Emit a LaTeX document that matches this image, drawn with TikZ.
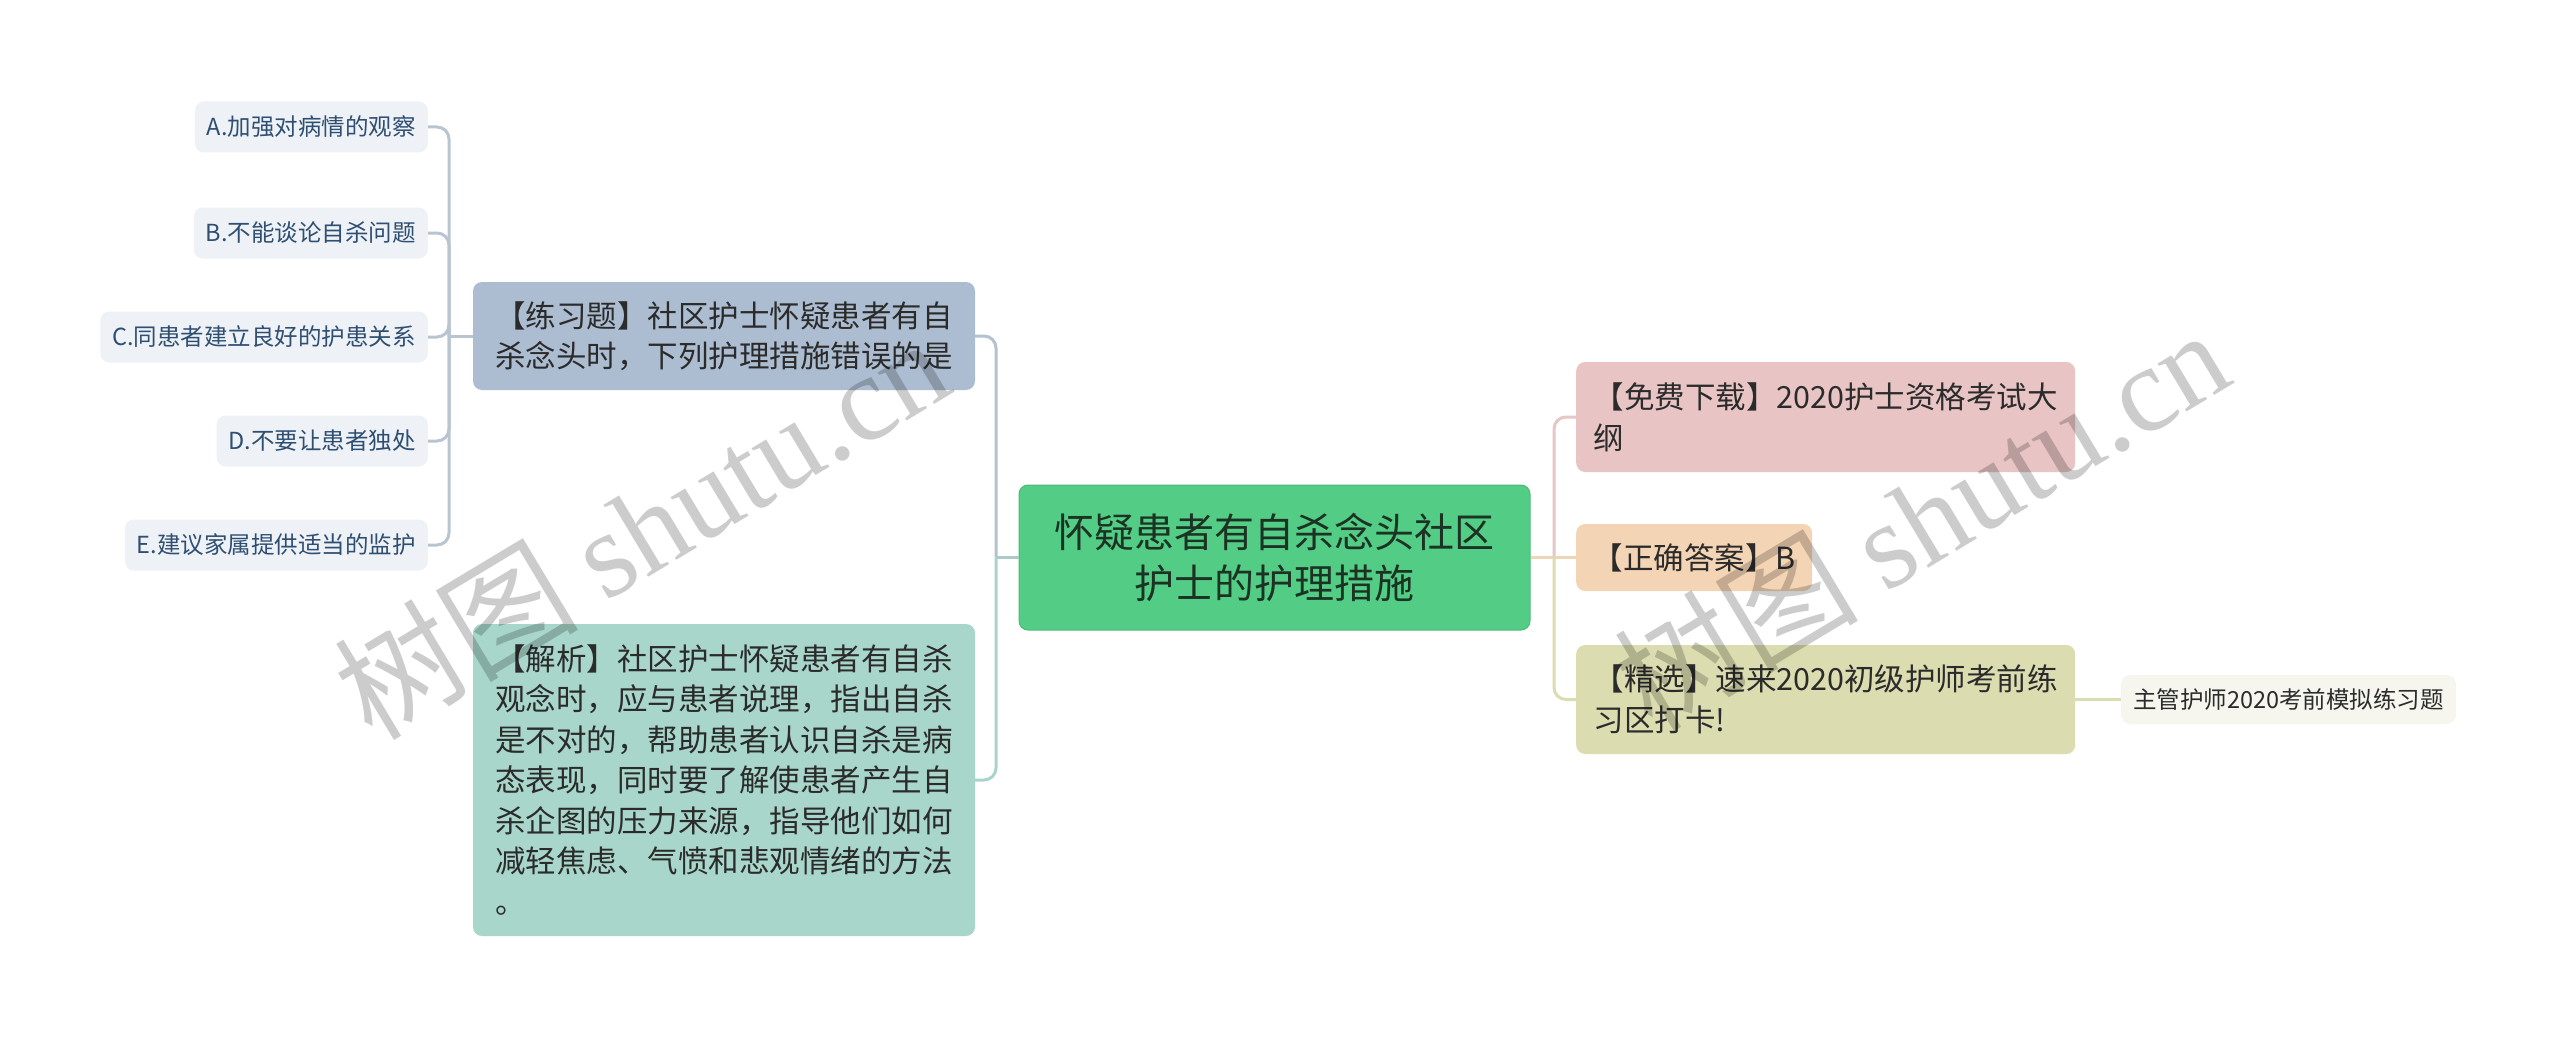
\documentclass[tikz,border=0pt]{standalone}
\usepackage{fontspec}
\setmainfont{Noto Sans CJK SC}
\newfontfamily\wmlatin{Liberation Serif}
\newfontfamily\wmcjk{Noto Sans CJK SC}
\definecolor{rootfill}{HTML}{53CC85}
\definecolor{rootdraw}{HTML}{4CBB7A}
\definecolor{roottext}{HTML}{1C3324}
\definecolor{qfill}{HTML}{ADBDD1}
\definecolor{afill}{HTML}{A8D6CA}
\definecolor{optfill}{HTML}{EEF2F6}
\definecolor{opttext}{HTML}{2E4E72}
\definecolor{dlfill}{HTML}{E8C4C4}
\definecolor{ansfill}{HTML}{F3D4B4}
\definecolor{jxfill}{HTML}{DBDCB0}
\definecolor{zgfill}{HTML}{F6F6EE}
\definecolor{darktext}{HTML}{2B2B2B}
\definecolor{cq}{HTML}{B4C1CF}
\definecolor{copt}{HTML}{B8C4D1}
\definecolor{ca}{HTML}{A9D4C9}
\definecolor{croot}{HTML}{ABCBCB}
\definecolor{cdl}{HTML}{E6C6C6}
\definecolor{cans}{HTML}{EBD6B8}
\definecolor{cjx}{HTML}{DADCB2}
\tikzset{
  box/.style={rounded corners=9pt, inner xsep=14pt, inner ysep=6pt},
  rootnode/.style={box, fill=rootfill, draw=rootdraw, line width=1pt, text=roottext,
    align=center, font=\fontsize{40}{51}\selectfont, minimum width=511pt, minimum height=145pt},
  bignode/.style={box, text=darktext, align=left, font=\fontsize{30.5}{40.5}\selectfont,
    minimum width=502pt},
  optnode/.style={box, fill=optfill, text=opttext, inner xsep=12pt,
    font=\fontsize{23.5}{28}\selectfont, minimum height=51pt, anchor=east},
  rnode/.style={box, text=darktext, align=left, font=\fontsize{30.5}{41}\selectfont,
    anchor=west},
  conn/.style={line width=3pt, rounded corners=12pt},
  wm/.style={text=black, text opacity=0.2, rotate=31, inner sep=0pt}
}
\begin{document}
\begin{tikzpicture}[x=1pt,y=-1pt]
\useasboundingbox (0,0) rectangle (2560,1038);
\fill[white] (0,0) rectangle (2560,1038);

% nodes
\node[rootnode] (root) at (1274.5,557.5) {怀疑患者有自杀念头社区\\护士的护理措施};
\node[bignode, fill=qfill, minimum height=108pt] (q) at (724,336)
  {【练习题】社区护士怀疑患者有自\\杀念头时，下列护理措施错误的是};
\node[bignode, fill=afill, minimum height=312pt] (ana) at (724,780)
  {【解析】社区护士怀疑患者有自杀\\观念时，应与患者说理，指出自杀\\是不对的，帮助患者认识自杀是病\\态表现，同时要了解使患者产生自\\杀企图的压力来源，指导他们如何\\减轻焦虑、气愤和悲观情绪的方法\\。};

\node[optnode] (oa) at (428,127) {A.加强对病情的观察};
\node[optnode] (ob) at (428,233) {B.不能谈论自杀问题};
\node[optnode] (oc) at (428,337) {C.同患者建立良好的护患关系};
\node[optnode] (od) at (428,441) {D.不要让患者独处};
\node[optnode] (oe) at (428,545) {E.建议家属提供适当的监护};

\node[rnode, fill=dlfill, minimum width=499pt, minimum height=110pt] (dl) at (1576,417)
  {【免费下载】2020护士资格考试大\\纲};
\node[rnode, fill=ansfill, minimum width=236pt, minimum height=67pt] (ans) at (1576,557.5)
  {【正确答案】B};
\node[rnode, fill=jxfill, minimum width=499pt, minimum height=109pt] (jx) at (1576,699.5)
  {【精选】速来2020初级护师考前练\\习区打卡!};
\node[rnode, fill=zgfill, inner xsep=12pt, minimum height=49pt,
  font=\fontsize{23.5}{28}\selectfont] (zg) at (2121,699.5) {主管护师2020考前模拟练习题};

% connectors left
\coordinate (jl) at (996,557.5);
\draw[conn, croot] (root.west) -- (jl);
\draw[conn, cq] (jl) |- (q.east);
\draw[conn, ca] (jl) |- (ana.east);

\coordinate (jo) at (449,336);
\draw[conn, copt] (q.west) -- (jo);
\draw[conn, copt] (jo) |- (oa.east);
\draw[conn, copt] (jo) |- (ob.east);
\draw[conn, copt] (jo) |- (oc.east);
\draw[conn, copt] (jo) |- (od.east);
\draw[conn, copt] (jo) |- (oe.east);

% connectors right
\coordinate (jr) at (1554,557.5);
\draw[conn, cans] (root.east) -- (jr);
\draw[conn, cdl] (jr) |- (dl.west);
\draw[conn, cans] (jr) -- (ans.west);
\draw[conn, cjx] (jr) |- (jx.west);
\draw[conn, cjx] (jx.east) -- (zg.west);

% watermarks
\node[wm] (wm1) at (641,527) {\fontsize{122}{122}\selectfont\wmcjk 树图 \wmlatin shutu.cn};
\node[wm] (wm2) at (1921,518) {\fontsize{122}{122}\selectfont\wmcjk 树图 \wmlatin shutu.cn};
\end{tikzpicture}
\end{document}
